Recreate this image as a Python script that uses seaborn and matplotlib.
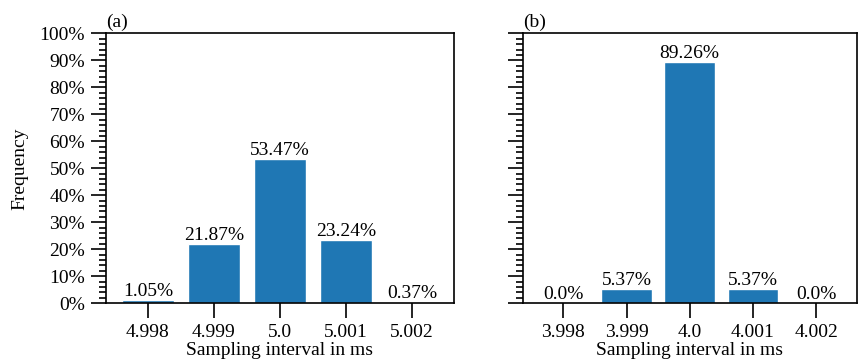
import matplotlib
matplotlib.use("Agg")
import matplotlib.pyplot as plt
import seaborn as sns
from matplotlib.ticker import MultipleLocator, PercentFormatter

cats_a = ["4.998", "4.999", "5.0", "5.001", "5.002"]
vals_a = [1.05, 21.87, 53.47, 23.24, 0.37]
cats_b = ["3.998", "3.999", "4.0", "4.001", "4.002"]
vals_b = [0.0, 5.37, 89.26, 5.37, 0.0]
titles = ["(a)", "(b)"]

sns.set_theme(style="ticks")
plt.rcParams["font.family"] = ["Liberation Serif", "DejaVu Serif"]
plt.rcParams["font.size"] = 14

fs = 14
fig = plt.figure(figsize=(8.6, 3.6), dpi=100)
ax1 = fig.add_axes([0.123, 0.158, 0.405, 0.749])
ax2 = fig.add_axes([0.608, 0.158, 0.388, 0.749], sharey=ax1)

for ax, cats, vals, t in [(ax1, cats_a, vals_a, titles[0]), (ax2, cats_b, vals_b, titles[1])]:
    sns.barplot(x=cats, y=vals, color="#1f77b4", saturation=1, width=0.8, ax=ax)
    for c in ax.containers:
        ax.bar_label(c, labels=[f"{v}%" for v in vals], padding=0, fontsize=fs, color="black")
    ax.set_xlim(-0.64, 4.64)
    ax.set_ylim(0, 100)
    ax.yaxis.set_major_locator(MultipleLocator(10))
    ax.yaxis.set_minor_locator(MultipleLocator(2))
    ax.yaxis.set_major_formatter(PercentFormatter(decimals=0))
    for s in ax.spines.values():
        s.set_visible(True)
        s.set_color("black")
        s.set_linewidth(1.2)
    ax.tick_params(axis="both", which="major", direction="out", length=11, width=1.2, colors="black", labelsize=fs, pad=4)
    ax.tick_params(axis="y", which="minor", direction="out", length=5, width=1.2, colors="black")
    ax.set_xlabel("Sampling interval in ms", fontsize=fs, color="black", labelpad=1)
    ax.set_title(t, loc="left", fontsize=fs, pad=5, color="black")

ax1.set_ylabel("Frequency", fontsize=fs, color="black", labelpad=8)
ax2.set_ylabel("")
plt.setp(ax2.get_yticklabels(), visible=False)

fig.savefig("out.png", dpi=100)
